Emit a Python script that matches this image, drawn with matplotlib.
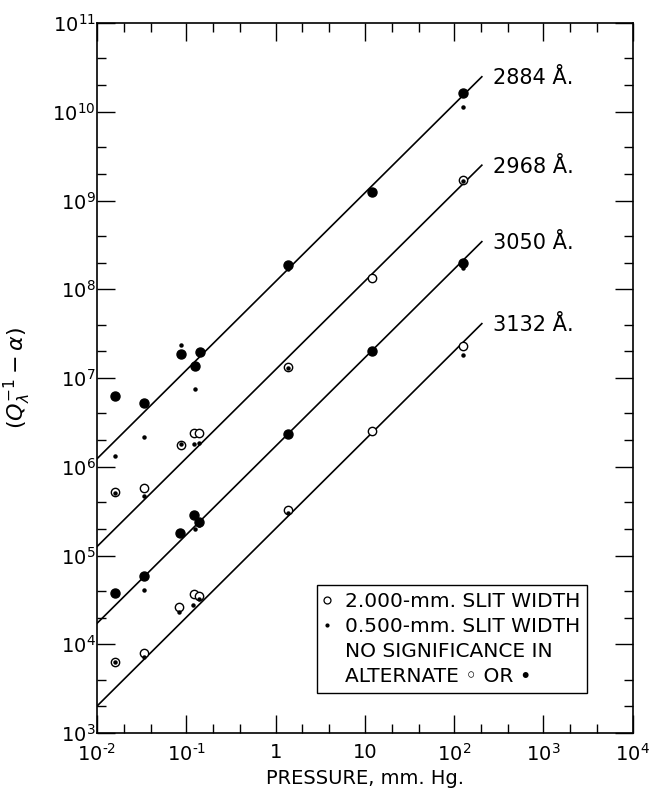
import matplotlib
matplotlib.use('Agg')
import matplotlib.pyplot as plt
from matplotlib.ticker import LogLocator, FixedLocator, FixedFormatter, NullFormatter
from matplotlib.lines import Line2D

# fitted lines (pressure mm Hg, value)
line_p = [0.01, 204]
line_2884 = [1.23e6, 2.48e10]
line_2968 = [1.26e5, 2.5e9]
line_3050 = [1.72e4, 3.44e8]
line_3132 = [2.01e3, 4.1e7]

# 2884 A - 2.000 mm slit (filled) and 0.500 mm slit (dots)
s2884_big_p = [0.0159, 0.0336, 0.088, 0.125, 0.142, 1.39, 12.1, 126]
s2884_big_v = [6.3e6, 5.2e6, 1.86e7, 1.38e7, 1.95e7, 1.87e8, 1.24e9, 1.64e10]
s2884_dot_p = [0.0159, 0.0336, 0.088, 0.125, 0.13, 1.39, 11.8, 126]
s2884_dot_v = [1.33e6, 2.16e6, 2.37e7, 7.5e6, 1.3e7, 1.7e8, 1.3e9, 1.12e10]

# 2968 A (open)
s2968_big_p = [0.0159, 0.0336, 0.087, 0.122, 0.14, 1.39, 12.1, 126]
s2968_big_v = [5.15e5, 5.7e5, 1.74e6, 2.38e6, 2.38e6, 1.34e7, 1.33e8, 1.70e9]
s2968_dot_p = [0.0159, 0.0336, 0.087, 0.121, 0.139, 1.39, 126]
s2968_dot_v = [5.0e5, 4.7e5, 1.8e6, 1.8e6, 1.86e6, 1.3e7, 1.65e9]

# 3050 A (filled)
s3050_big_p = [0.0159, 0.0336, 0.0857, 0.121, 0.139, 1.39, 12.1, 126]
s3050_big_v = [3.75e4, 5.87e4, 1.78e5, 2.86e5, 2.4e5, 2.32e6, 2.0e7, 2.0e8]
s3050_dot_p = [0.0336, 0.125, 0.14, 126]
s3050_dot_v = [4.08e4, 1.97e5, 2.2e5, 1.72e8]

# 3132 A (open)
s3132_big_p = [0.0159, 0.0336, 0.083, 0.122, 0.14, 1.39, 12.1, 126]
s3132_big_v = [6.3e3, 8.0e3, 2.6e4, 3.68e4, 3.5e4, 3.26e5, 2.55e6, 2.29e7]
s3132_dot_p = [0.0159, 0.0336, 0.083, 0.12, 0.14, 1.39, 126]
s3132_dot_v = [6.3e3, 7.1e3, 2.29e4, 2.8e4, 3.2e4, 2.98e5, 1.82e7]

line_labels = ['2884 Å.', '2968 Å.', '3050 Å.', '3132 Å.']

xticks = [1e-2, 1e-1, 1, 10, 1e2, 1e3, 1e4]
xtick_labels = [r'$10^{‐2}$', r'$10^{‐1}$', '1', '10', r'$10^{2}$', r'$10^{3}$', r'$10^{4}$']
yticks = [1e3, 1e4, 1e5, 1e6, 1e7, 1e8, 1e9, 1e10, 1e11]
ytick_labels = [r'$10^{3}$', r'$10^{4}$', r'$10^{5}$', r'$10^{6}$', r'$10^{7}$',
                r'$10^{8}$', r'$10^{9}$', r'$10^{10}$', r'$10^{11}$']

fig = plt.figure(figsize=(6.51, 7.99), dpi=100)
ax = fig.add_axes([0.149, 0.0826, 0.823, 0.8886])

filled = dict(linestyle='none', marker='o', ms=6.5, color='black', zorder=3)
opened = dict(linestyle='none', marker='o', ms=6, mfc='white', mec='black', mew=1, zorder=3)
dot = dict(linestyle='none', marker='o', ms=2.2, color='black', zorder=4)

lines = [line_2884, line_2968, line_3050, line_3132]
for vals, lab in zip(lines, line_labels):
    ax.plot(line_p, vals, color='black', lw=1.2, zorder=2)
    ax.annotate(lab, xy=(line_p[-1], vals[-1]), xytext=(8, -5.5),
                textcoords='offset points', va='baseline', ha='left', fontsize=15)

ax.plot(s2884_big_p, s2884_big_v, **filled)
ax.plot(s2884_dot_p, s2884_dot_v, **dot)
ax.plot(s2968_big_p, s2968_big_v, **opened)
ax.plot(s2968_dot_p, s2968_dot_v, **dot)
ax.plot(s3050_big_p, s3050_big_v, **filled)
ax.plot(s3050_dot_p, s3050_dot_v, **dot)
ax.plot(s3132_big_p, s3132_big_v, **opened)
ax.plot(s3132_dot_p, s3132_dot_v, **dot)

ax.set_xscale('log')
ax.set_yscale('log')
ax.set_xlim(1e-2, 1e4)
ax.set_ylim(1e3, 1e11)

ax.xaxis.set_major_locator(FixedLocator(xticks))
ax.xaxis.set_major_formatter(FixedFormatter(xtick_labels))
ax.yaxis.set_major_locator(FixedLocator(yticks))
ax.yaxis.set_major_formatter(FixedFormatter(ytick_labels))
ax.xaxis.set_minor_locator(LogLocator(base=10, subs=[2, 4], numticks=20))
ax.yaxis.set_minor_locator(LogLocator(base=10, subs=[2, 4], numticks=20))
ax.xaxis.set_minor_formatter(NullFormatter())
ax.yaxis.set_minor_formatter(NullFormatter())

ax.tick_params(which='both', direction='in', top=True, right=True, color='black', width=1)
ax.tick_params(which='major', length=13)
ax.tick_params(which='minor', length=6.5)
ax.tick_params(axis='y', which='major', pad=1, labelsize=14)
ax.tick_params(axis='x', which='major', pad=7, labelsize=14)
for sp in ax.spines.values():
    sp.set_linewidth(1.2)
    sp.set_color('black')

ax.set_xlabel('PRESSURE, mm. Hg.', fontsize=14)
ax.xaxis.set_label_coords(0.5, -0.05)
ax.set_ylabel(r'$(Q_{\lambda}^{-1} - \alpha)$', fontsize=16)
ax.yaxis.set_label_coords(-0.12, 0.5)

h_open = Line2D([], [], linestyle='none', marker='o', ms=5, mfc='white', mec='black', mew=0.9)
h_dot = Line2D([], [], linestyle='none', marker='o', ms=2, color='black')
h_none = Line2D([], [], linestyle='none')
leg = ax.legend([h_open, h_dot, h_none, h_none],
                ['2.000-mm. SLIT WIDTH', '0.500-mm. SLIT WIDTH',
                 'NO SIGNIFICANCE IN', 'ALTERNATE ◦ OR •'],
                loc='lower left', bbox_to_anchor=(0.41, 0.056), borderaxespad=0,
                fontsize=14.5, frameon=True, fancybox=False, edgecolor='black',
                framealpha=1, handlelength=0.3, handletextpad=0.73,
                borderpad=0.36, labelspacing=0.29)
leg.get_frame().set_linewidth(1)

fig.savefig('out.png', dpi=100)
